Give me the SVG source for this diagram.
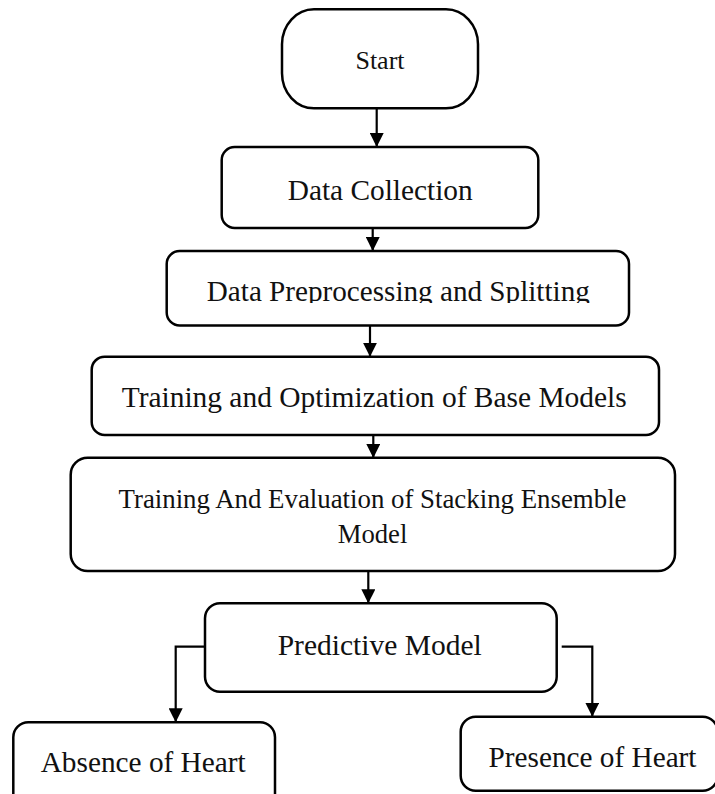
<svg xmlns="http://www.w3.org/2000/svg" width="715" height="794" viewBox="0 0 715 794">
  <style>
    .box { fill: #ffffff; stroke: #000000; stroke-width: 2.5; }
    .lbl { font-family: "Liberation Serif", "Times New Roman", serif; fill: #111111; text-anchor: middle; }
    .edge { fill: none; stroke: #000000; stroke-width: 2.2; }
  </style>
  <defs>
    <marker id="arrow" markerUnits="userSpaceOnUse" viewBox="0 0 14 14" markerWidth="14" markerHeight="14" refX="14" refY="7" orient="auto">
      <path d="M0,0 L14,7 L0,14 z" fill="#000000"/>
    </marker>
    <!-- the label of the preprocessing step is cut just below its baseline -->
    <clipPath id="clip-prep">
      <rect x="166" y="251" width="463" height="52"/>
    </clipPath>
  </defs>

  <rect width="715" height="794" fill="#ffffff"/>

  <g id="connectors">
    <path class="edge" d="M376.7,108.5 V147" marker-end="url(#arrow)"/>
    <path class="edge" d="M372.7,223 V251" marker-end="url(#arrow)"/>
    <path class="edge" d="M370,325.5 V356.7" marker-end="url(#arrow)"/>
    <path class="edge" d="M373.3,435 V458" marker-end="url(#arrow)"/>
    <path class="edge" d="M368.3,571 V603.3" marker-end="url(#arrow)"/>
    <path class="edge" d="M205,646.7 H175.7 V722.3" marker-end="url(#arrow)"/>
    <path class="edge" d="M561.7,646.7 H592.3 V716.7" marker-end="url(#arrow)"/>
  </g>

  <g id="start">
    <rect class="box" x="282" y="9.3" width="196" height="99" rx="32" ry="35"/>
    <text class="lbl" x="380" y="69.3" font-size="26">Start</text>
  </g>

  <g id="data-collection">
    <rect class="box" x="221.7" y="147" width="316.6" height="81" rx="13"/>
    <text class="lbl" x="380.2" y="199.5" font-size="29.3" textLength="185" lengthAdjust="spacingAndGlyphs">Data Collection</text>
  </g>

  <g id="data-preprocessing">
    <rect class="box" x="166.7" y="251" width="462.3" height="74.5" rx="13"/>
    <text class="lbl" x="398.3" y="301" font-size="29.2" textLength="383" lengthAdjust="spacingAndGlyphs" clip-path="url(#clip-prep)">Data Preprocessing and Splitting</text>
  </g>

  <g id="base-models">
    <rect class="box" x="91.7" y="356.7" width="567.3" height="78.3" rx="13"/>
    <text class="lbl" x="374.2" y="407.3" font-size="29.4" textLength="505" lengthAdjust="spacingAndGlyphs">Training and Optimization of Base Models</text>
  </g>

  <g id="stacking-ensemble">
    <rect class="box" x="70.7" y="457.7" width="604.3" height="113.3" rx="17"/>
    <text class="lbl" x="372.5" y="508" font-size="26.7" textLength="508" lengthAdjust="spacingAndGlyphs">Training And Evaluation of Stacking Ensemble</text>
    <text class="lbl" x="372.5" y="543" font-size="26.7">Model</text>
  </g>

  <g id="predictive-model">
    <rect class="box" x="205" y="603.3" width="351.7" height="88.4" rx="15"/>
    <text class="lbl" x="379.7" y="655" font-size="29.5" textLength="204" lengthAdjust="spacingAndGlyphs">Predictive Model</text>
  </g>

  <g id="absence">
    <rect class="box" x="13.3" y="722.3" width="261.7" height="90" rx="15"/>
    <text class="lbl" x="143.2" y="771.7" font-size="29.3" textLength="205" lengthAdjust="spacingAndGlyphs">Absence of Heart</text>
  </g>

  <g id="presence">
    <rect class="box" x="460.7" y="716.7" width="257" height="74" rx="15"/>
    <text class="lbl" x="592.5" y="767.3" font-size="29.3" textLength="208" lengthAdjust="spacingAndGlyphs">Presence of Heart</text>
  </g>
</svg>
